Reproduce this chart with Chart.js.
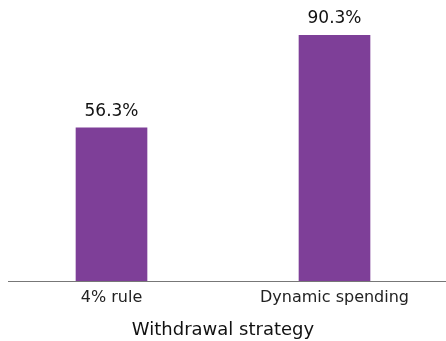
<!DOCTYPE html>
<html><head><meta charset="utf-8">
<script src="https://cdn.jsdelivr.net/npm/chart.js@4"></script>
<style>html,body{margin:0;padding:0;background:#fff}#wrap{width:446px;height:341px}</style>
</head><body><div id="wrap"><canvas id="c" width="446" height="341"></canvas></div>
<script>
const categories = ["4% rule", "Dynamic spending"];
const values = [56.3, 90.3];
const axisTitle = "Withdrawal strategy";
const FONT = '"DejaVu Sans", sans-serif';

const valueLabels = {
  id: 'valueLabels',
  afterDatasetsDraw(chart) {
    const ctx = chart.ctx;
    const meta = chart.getDatasetMeta(0);
    ctx.save();
    ctx.font = '17px ' + FONT;
    ctx.fillStyle = '#111';
    ctx.textAlign = 'center';
    ctx.textBaseline = 'bottom';
    meta.data.forEach((bar, i) => {
      ctx.fillText(values[i].toFixed(1) + '%', bar.x, bar.y - 8);
    });
    ctx.restore();
  }
};
const baseLine = {
  id: 'baseLine',
  afterDatasetsDraw(chart) {
    const ctx = chart.ctx;
    const y = Math.round(chart.scales.y.getPixelForValue(0)) + 0.5;
    ctx.save();
    ctx.strokeStyle = '#777';
    ctx.lineWidth = 1;
    ctx.beginPath();
    ctx.moveTo(8, y);
    ctx.lineTo(chart.width, y);
    ctx.stroke();
    ctx.restore();
  }
};

new Chart(document.getElementById('c'), {
  type: 'bar',
  data: {
    labels: categories,
    datasets: [{ data: values, backgroundColor: '#7e3f98', barThickness: 71 }]
  },
  options: {
    responsive: false,
    animation: false,
    devicePixelRatio: 1,
    layout: { padding: { left: -1, right: -3, top: 9, bottom: 0 } },
    plugins: { legend: { display: false }, tooltip: { enabled: false } },
    scales: {
      y: { display: false, min: 0, max: 100 },
      x: {
        grid: { display: false, drawTicks: false },
        border: { display: false },
        ticks: { color: '#222', font: { size: 16, family: FONT }, padding: 7 },
        title: { display: true, text: axisTitle, color: '#111', font: { size: 18, family: FONT }, padding: { top: 5, bottom: 0 } }
      }
    }
  },
  plugins: [valueLabels, baseLine]
});
</script></body></html>
